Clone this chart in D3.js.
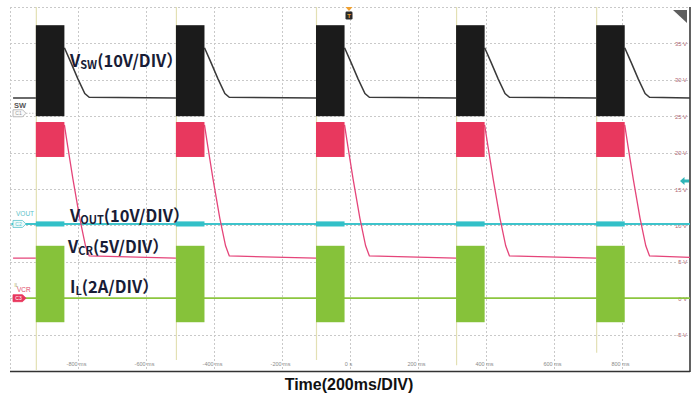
<!DOCTYPE html>
<html>
<head>
<meta charset="utf-8">
<script src="https://cdn.jsdelivr.net/npm/d3@7"></script>
<style>
  html, body { margin: 0; padding: 0; background: #fff; }
  svg { display: block; }
</style>
</head>
<body>
<svg id="chart" width="699" height="402"></svg>
<script>
// Time axis (ms) and display voltage grid (V)
const xTicks = [-800, -600, -400, -200, 0, 200, 400, 600, 800];
const xTickLabels = ["-800 ms", "-600 ms", "-400 ms", "-200 ms", "0 s", "200 ms", "400 ms", "600 ms", "800 ms"];
const yTicks = [35, 30, 25, 20, 15, 10, 5, 0, -5];
const yTickLabels = ["35 V", "30 V", "25 V", "20 V", "15 V", "10 V", "5 V", "0 V", "-5 V"];

// Switching bursts (ms)
const burstStart = [-924, -512, -100, 312, 724];
const burstEnd = [-840, -428, -16, 396, 808];

// Envelope of each channel while switching (display volts)
const swBand = [25.0, 37.5];
const crBand = [19.4, 24.2];
const ilBand = [-3.3, 7.2];
const voutBand = [9.85, 10.55];
const spikeLow = [-9.9, -8.5, -8.5, -9.2, -7.5];

// V_SW trace between bursts [ms, V]; null marks a burst gap
const swTrace = [
  [-991, 27.5], [-924, 27.5], null,
  [-840, 34.4], [-822, 32.5], [-800, 30.1], [-780, 28.1], [-767, 27.6], [-512, 27.5], null,
  [-428, 34.4], [-410, 32.5], [-388, 30.1], [-368, 28.1], [-355, 27.6], [-100, 27.5], null,
  [-16, 34.4], [2, 32.5], [24, 30.1], [44, 28.1], [57, 27.6], [312, 27.5], null,
  [396, 34.4], [414, 32.5], [436, 30.1], [456, 28.1], [469, 27.6], [724, 27.5], null,
  [808, 34.4], [826, 32.5], [848, 30.1], [868, 28.1], [881, 27.6], [1000, 27.5]
];

// V_CR trace between bursts [ms, V]; null marks a burst gap
const crTrace = [
  [-991, 5.5], [-924, 5.5], null,
  [-840, 23.8], [-830, 20.8], [-815, 16.4], [-795, 11.0], [-778, 7.2], [-767, 5.8], [-512, 5.5], null,
  [-428, 23.8], [-418, 20.8], [-403, 16.4], [-383, 11.0], [-366, 7.2], [-355, 5.8], [-100, 5.5], null,
  [-16, 23.8], [-6, 20.8], [9, 16.4], [29, 11.0], [46, 7.2], [57, 5.8], [312, 5.5], null,
  [396, 23.8], [406, 20.8], [421, 16.4], [441, 11.0], [458, 7.2], [469, 5.8], [724, 5.5], null,
  [808, 23.8], [818, 20.8], [833, 16.4], [853, 11.0], [870, 7.2], [881, 5.8], [1000, 5.6]
];

// V_OUT and I_L steady levels
const voutTrace = [[-996, 10.2], [1000, 10.2]];
const ilTrace = [[-992, 0.0], [1000, 0.0]];

const svg = d3.select("#chart");
const x = d3.scaleLinear().domain([-1000, 1000]).range([10, 690]);
const y = d3.scaleLinear().domain([-10, 40]).range([371, 7]);

// Grid
const grid = svg.append("g").attr("stroke", "#c9c9c9").attr("stroke-dasharray", "2,2").attr("stroke-width", 1);
grid.selectAll("line.v").data([-1000].concat(xTicks)).join("line")
  .attr("x1", d => x(d) + 0.5).attr("x2", d => x(d) + 0.5)
  .attr("y1", y(40)).attr("y2", y(-10));
grid.selectAll("line.h").data([40].concat(yTicks)).join("line")
  .attr("x1", x(-1000)).attr("x2", x(1000))
  .attr("y1", d => Math.round(y(d)) + 0.5).attr("y2", d => Math.round(y(d)) + 0.5);

// Frame (right + bottom solid)
svg.append("line").attr("x1", x(1000)).attr("x2", x(1000)).attr("y1", y(40)).attr("y2", y(-10) + 1)
  .attr("stroke", "#3a3a3a").attr("stroke-width", 1.6);
svg.append("line").attr("x1", x(-1000)).attr("x2", x(1000)).attr("y1", y(-10) + 0.5).attr("y2", y(-10) + 0.5)
  .attr("stroke", "#333").attr("stroke-width", 1.6);

// Axis tick labels
const xAxis = d3.axisBottom(x).tickValues(xTicks).tickSize(0).tickFormat((d, i) => xTickLabels[i]);
const gx = svg.append("g").attr("transform", `translate(-2,${y(-10) - 5})`).call(xAxis);
gx.select(".domain").remove();
gx.selectAll("text").attr("font-family", "Liberation Sans, Arial, sans-serif").attr("font-size", 5.5).attr("fill", "#8a8a8a").attr("dy", 0).attr("y", 0);

const yAxis = d3.axisLeft(y).tickValues(yTicks).tickSize(0).tickFormat((d, i) => yTickLabels[i]);
const gy = svg.append("g").attr("transform", `translate(688,0)`).call(yAxis);
gy.select(".domain").remove();
gy.selectAll("text").attr("font-family", "Liberation Sans, Arial, sans-serif").attr("font-size", 5.8).attr("fill", "#b06874").attr("dy", "0.35em").attr("x", -1);

// Faint edge lines at each burst start
svg.append("g").selectAll("line").data(burstStart).join("line")
  .attr("x1", d => x(d) + 0.5).attr("x2", d => x(d) + 0.5)
  .attr("y1", y(40)).attr("y2", (d, i) => y(spikeLow[i]))
  .attr("stroke", "#e3e0b4").attr("stroke-width", 1.2);

const line = d3.line().defined(d => d != null).x(d => x(d[0])).y(d => y(d[1]));

// Traces
svg.append("path").datum(voutTrace).attr("d", line).attr("fill", "none").attr("stroke", "#3ec3cb").attr("stroke-width", 2);
svg.append("path").datum(ilTrace).attr("d", line).attr("fill", "none").attr("stroke", "#8cc63f").attr("stroke-width", 1.8);
svg.append("path").datum(crTrace).attr("d", line).attr("fill", "none").attr("stroke", "#e5457a").attr("stroke-width", 1.3);
svg.append("path").datum(swTrace).attr("d", line).attr("fill", "none").attr("stroke", "#3a3a3a").attr("stroke-width", 1.5);

// Burst envelopes
const bursts = burstStart.map((s, i) => ({ s, e: burstEnd[i] }));
function band(range, fill, cls) {
  svg.append("g").selectAll("rect").data(bursts).join("rect")
    .attr("class", cls)
    .attr("x", d => x(d.s)).attr("width", d => x(d.e) - x(d.s))
    .attr("y", y(range[1])).attr("height", y(range[0]) - y(range[1]))
    .attr("fill", fill);
}
band(swBand, "#1b1b1b", "sw");
band(crBand, "#e8385e", "cr");
band(ilBand, "#86c23a", "il");
band(voutBand, "#32c0c8", "vout");

// Channel markers on the left
function badge(cy, stroke, fill, label, textFill) {
  const g = svg.append("g");
  g.append("path")
    .attr("d", `M13,${cy - 3.5} L22.5,${cy - 3.5} L26,${cy} L22.5,${cy + 3.5} L13,${cy + 3.5} Z`)
    .attr("fill", fill).attr("stroke", stroke).attr("stroke-width", 0.8).attr("stroke-linejoin", "round");
  g.append("text").attr("x", 18.5).attr("y", cy + 1.8).attr("text-anchor", "middle")
    .attr("font-family", "Liberation Sans, Arial, sans-serif").attr("font-size", 5).attr("fill", textFill).text(label);
}
badge(y(25.4), "#a9a9a9", "#fafafa", "C1", "#999");
svg.append("line").attr("x1", 26).attr("x2", 36).attr("y1", y(25.4)).attr("y2", y(25.4))
  .attr("stroke", "#bbb").attr("stroke-width", 0.8).attr("stroke-dasharray", "1.5,1.5");
badge(y(10.2), "#5cc5cd", "#ecfafa", "C2", "#5cc5cd");
badge(y(0), "#e8385e", "#e8385e", "C3", "#fff");

const small = "Liberation Sans, Arial, sans-serif";
svg.append("text").attr("x", 14).attr("y", 108).attr("font-family", small).attr("font-size", 7.5)
  .attr("font-weight", "bold").attr("fill", "#555").text("SW");
svg.append("text").attr("x", 16).attr("y", 215.5).attr("font-family", small).attr("font-size", 6.5)
  .attr("fill", "#5bbfc8").text("VOUT");
svg.append("text").attr("x", 17).attr("y", 292).attr("font-family", small).attr("font-size", 6.5)
  .attr("fill", "#e04a6a").text("VCR");
svg.append("text").attr("x", 14.5).attr("y", 287).attr("font-family", small).attr("font-size", 4.5)
  .attr("fill", "#a8a050").text("IL");

// Trigger marker
const tx = x(0) - 1;
svg.append("path").attr("d", `M${tx - 3.5},7 L${tx + 3.5},7 L${tx},11 Z`).attr("fill", "#f0a030");
svg.append("rect").attr("x", tx - 3.5).attr("y", 11.5).attr("width", 7).attr("height", 8).attr("rx", 1.2).attr("fill", "#2a2a2a");
svg.append("text").attr("x", tx).attr("y", 18).attr("text-anchor", "middle").attr("font-family", small)
  .attr("font-size", 6).attr("font-weight", "bold").attr("fill", "#f0a030").text("T");

// Top-right corner tab and cyan level arrow
svg.append("path").attr("d", "M673,10 L687,10 L687,23 Z").attr("fill", "#5e5e5e");
svg.append("path").attr("d", "M680,181 L684.5,177 L684.5,179.5 L689,179.5 L689,182.5 L684.5,182.5 L684.5,185 Z").attr("fill", "#2fb5b8");

// Channel scale annotations
const cjk = "'Noto Sans CJK SC', 'Noto Sans', sans-serif";
function scaleLabel(xp, yp, main, sub, rest) {
  const t = svg.append("text").attr("x", xp).attr("y", yp).attr("font-family", cjk)
    .attr("font-size", 16.5).attr("font-weight", "bold").attr("fill", "#181c36");
  t.append("tspan").text(main);
  t.append("tspan").attr("font-size", 11).attr("dy", 2).text(sub);
  t.append("tspan").attr("dy", -2).text(rest);
}
scaleLabel(70, 67, "V", "SW", "(10V/DIV）");
scaleLabel(70, 222, "V", "OUT", "(10V/DIV）");
scaleLabel(68, 253, "V", "CR", "(5V/DIV）");
scaleLabel(70, 293, "I", "L", "(2A/DIV）");

// Axis title
svg.append("text").attr("x", 349).attr("y", 390).attr("text-anchor", "middle")
  .attr("font-family", "Liberation Sans, Arial, sans-serif").attr("font-size", 16)
  .attr("font-weight", "bold").attr("fill", "#111").text("Time(200ms/DIV)");
</script>
</body>
</html>
